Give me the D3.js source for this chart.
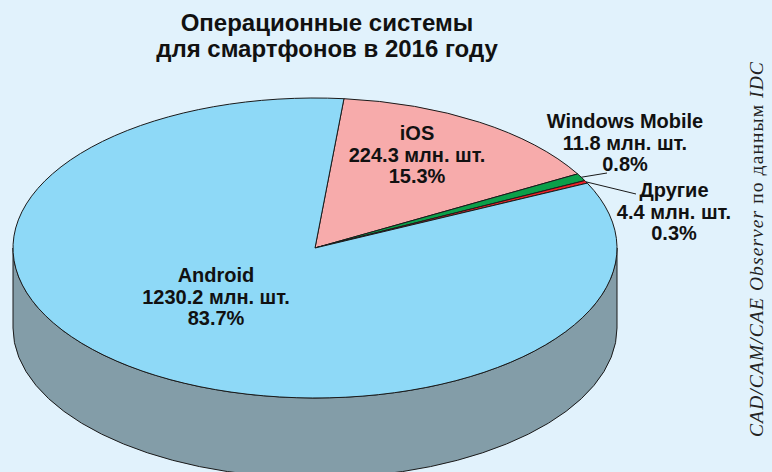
<!DOCTYPE html>
<html>
<head>
  <meta charset="utf-8">
  <script src="https://cdnjs.cloudflare.com/ajax/libs/d3/7.0.0/d3.min.js"></script>
  <style>
    body { margin: 0; background: #e1f2fc; }
    text { font-family: "Liberation Sans", Arial, sans-serif; font-weight: bold; fill: #111; }
  </style>
</head>
<body>
<div id="chart"></div>
<script>
var titleLines = ["Операционные системы", "для смартфонов в 2016 году"];
var systems = ["iOS", "Windows Mobile", "Другие", "Android"];
var units = [224.3, 11.8, 4.4, 1230.2];   // млн. шт.
var shares = [15.3, 0.8, 0.3, 83.7];      // %
var unitLabel = "млн. шт.";
var source = ["CAD/CAM/CAE Observer", " по данным ", "IDC"];

var width = 772, height = 472;
var cx = 315, cy = 248, rx = 302, ry = 150, depth = 80;
var start = 5.5 * Math.PI / 180;

// where the text blocks sit (center x, first baseline)
var labelAt = {
  "iOS": [417, 140],
  "Windows Mobile": [625, 128],
  "Другие": [674, 197],
  "Android": [216, 282]
};
var leaderEnd = { "Windows Mobile": [607, 173], "Другие": [636, 194] };

var svg = d3.select("#chart").append("svg")
  .attr("width", width)
  .attr("height", height);

svg.append("rect")
  .attr("width", width)
  .attr("height", height)
  .attr("fill", "#e1f2fc");

var color = d3.scaleOrdinal(systems, ["#f7abab", "#0ba04a", "#ec2328", "#8ed9f7"]);
var sideColor = d3.scaleOrdinal(systems, ["#c58888", "#087a39", "#b31a1e", "#839da8"]);

var pie = d3.pie()
  .sort(null)
  .value(function(d, i) { return units[i]; })
  .startAngle(start)
  .endAngle(start + 2 * Math.PI);
var arcs = pie(systems);

// angle 0 = top, clockwise, projected onto the ellipse
function pt(a, dy) {
  return [cx + rx * Math.sin(a), cy - ry * Math.cos(a) + (dy || 0)];
}

function topPath(d) {
  var p0 = pt(d.startAngle), p1 = pt(d.endAngle);
  var large = d.endAngle - d.startAngle > Math.PI ? 1 : 0;
  return "M" + cx + "," + cy + "L" + p0 + "A" + rx + "," + ry + " 0 " + large + " 1 " + p1 + "Z";
}

function sidePath(a0, a1) {
  var p0 = pt(a0), p1 = pt(a1), q1 = pt(a1, depth), q0 = pt(a0, depth);
  var large = a1 - a0 > Math.PI ? 1 : 0;
  return "M" + p0 + "A" + rx + "," + ry + " 0 " + large + " 1 " + p1 +
    "L" + q1 + "A" + rx + "," + ry + " 0 " + large + " 0 " + q0 + "Z";
}

// front part of the rim: angles between 90 and 270 degrees
var sides = [];
arcs.forEach(function(d) {
  [0, 2 * Math.PI].forEach(function(k) {
    var a0 = Math.max(d.startAngle, Math.PI / 2 + k);
    var a1 = Math.min(d.endAngle, 3 * Math.PI / 2 + k);
    if (a1 > a0) sides.push({ name: d.data, a0: a0, a1: a1 });
  });
});

svg.selectAll("path.side")
  .data(sides)
  .enter().append("path")
  .attr("class", "side")
  .attr("d", function(d) { return sidePath(d.a0, d.a1); })
  .attr("fill", function(d) { return sideColor(d.name); })
  .attr("stroke", "#1a1a1a")
  .attr("stroke-width", 1);

svg.selectAll("path.top")
  .data(arcs)
  .enter().append("path")
  .attr("class", "top")
  .attr("d", topPath)
  .attr("fill", function(d) { return color(d.data); })
  .attr("stroke", "#1a1a1a")
  .attr("stroke-width", 1)
  .attr("stroke-linejoin", "round");

// leader lines for the thin slices
arcs.filter(function(d) { return leaderEnd[d.data]; }).forEach(function(d) {
  var p = pt((d.startAngle + d.endAngle) / 2);
  svg.append("line")
    .attr("x1", p[0]).attr("y1", p[1])
    .attr("x2", leaderEnd[d.data][0]).attr("y2", leaderEnd[d.data][1])
    .attr("stroke", "#1a1a1a")
    .attr("stroke-width", 1);
});

arcs.forEach(function(d) {
  var i = d.index;
  var pos = labelAt[d.data];
  var lines = [d.data, units[i] + " " + unitLabel, shares[i].toFixed(1) + "%"];
  var t = svg.append("text")
    .attr("text-anchor", "middle")
    .style("font-size", "20px");
  lines.forEach(function(s, j) {
    t.append("tspan")
      .attr("x", pos[0])
      .attr("y", pos[1] + j * 21.5)
      .text(s);
  });
});

var title = svg.append("text")
  .attr("text-anchor", "middle")
  .style("font-size", "24px");
titleLines.forEach(function(s, j) {
  title.append("tspan")
    .attr("x", 327)
    .attr("y", 31 + j * 25.5)
    .text(s);
});

var src = svg.append("text")
  .attr("transform", "translate(763," + 249 + ") rotate(-90)")
  .attr("text-anchor", "middle")
  .style("font-family", "'Liberation Serif', 'Times New Roman', serif")
  .style("font-weight", "normal")
  .style("font-size", "19.5px")
  .style("letter-spacing", "1.1px")
  .style("fill", "#222");
source.forEach(function(s, j) {
  src.append("tspan")
    .style("font-style", j === 1 ? "normal" : "italic")
    .text(s);
});
</script>
</body>
</html>
